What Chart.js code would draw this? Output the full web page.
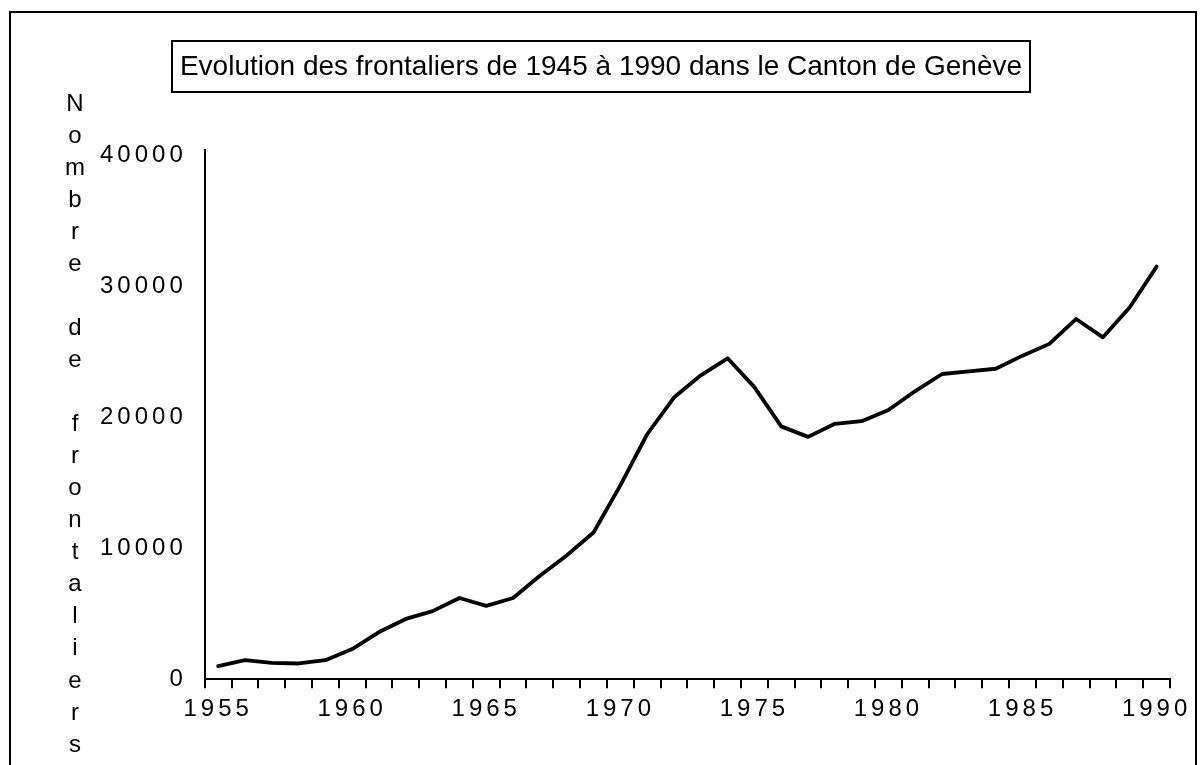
<!DOCTYPE html>
<html>
<head>
<meta charset="utf-8">
<script src="https://cdn.jsdelivr.net/npm/chart.js@4.4.1/dist/chart.umd.min.js"></script>
<style>
  html, body { margin: 0; padding: 0; background: #ffffff; }
  #wrap { width: 1203px; height: 765px; }
  canvas { display: block; }
</style>
</head>
<body>
<div id="wrap"><canvas id="c" width="1203" height="765"></canvas></div>
<script>
// ---- Data ----
const years = ['1955','1956','1957','1958','1959','1960','1961','1962','1963','1964',
               '1965','1966','1967','1968','1969','1970','1971','1972','1973','1974',
               '1975','1976','1977','1978','1979','1980','1981','1982','1983','1984',
               '1985','1986','1987','1988','1989','1990'];
const frontaliers = [1000, 1450, 1250, 1200, 1450, 2300, 3600, 4600, 5200, 6200,
                     5600, 6200, 7900, 9450, 11200, 14800, 18700, 21500, 23200, 24500,
                     22300, 19300, 18500, 19500, 19700, 20550, 22000, 23300, 23500, 23700,
                     24700, 25600, 27500, 26100, 28400, 31500];
const xTickLabels = ['1955','1960','1965','1970','1975','1980','1985','1990'];
const yTickValues = [0, 10000, 20000, 30000, 40000];
const titleText = 'Evolution des frontaliers de 1945 à 1990 dans le Canton de Genève';
const yAxisTitle = 'Nombre de frontaliers';

const FONT = '"Liberation Sans", Arial, Helvetica, sans-serif';

const decor = {
  id: 'decor',
  beforeUpdate(chart) { chart.ctx.letterSpacing = '4px'; },
  beforeDraw(chart) { chart.ctx.letterSpacing = '4px'; },
  afterDraw(chart) {
    const ctx = chart.ctx;
    ctx.save();
    ctx.letterSpacing = '0px';
    ctx.strokeStyle = '#000';
    ctx.lineWidth = 2;
    // outer frame
    ctx.strokeRect(10, 12, 1186, 800);
    // title box
    ctx.strokeRect(172, 41, 858, 51);
    ctx.fillStyle = '#000';
    ctx.font = '28px ' + FONT;
    ctx.textAlign = 'center';
    ctx.textBaseline = 'middle';
    ctx.fillText(titleText, 601, 67);
    // vertical stacked y-axis title
    ctx.font = '24px ' + FONT;
    const chars = Array.from(yAxisTitle);
    chars.forEach((ch, i) => {
      if (ch !== ' ') ctx.fillText(ch, 75, 104 + i * 32.05);
    });
    ctx.restore();
  }
};

new Chart(document.getElementById('c'), {
  type: 'line',
  data: {
    labels: years,
    datasets: [{
      data: frontaliers,
      borderColor: '#000',
      borderWidth: 3.8,
      pointRadius: 0,
      tension: 0,
      fill: false,
      borderJoinStyle: 'round',
      borderCapStyle: 'round'
    }]
  },
  options: {
    responsive: false,
    animation: false,
    devicePixelRatio: 1,
    layout: { padding: { top: 150, left: 82, right: 33, bottom: 34 } },
    plugins: { legend: { display: false }, title: { display: false }, tooltip: { enabled: false } },
    scales: {
      x: {
        type: 'category',
        offset: true,
        grid: { offset: true, drawOnChartArea: false, drawTicks: true, tickLength: 9, color: '#000', lineWidth: 2 },
        border: { display: true, color: '#000', width: 2 },
        ticks: {
          autoSkip: false, maxRotation: 0, minRotation: 0, padding: 7, color: '#000',
          font: { size: 24, family: FONT },
          callback: function(value) {
            const lab = this.getLabelForValue(value);
            return xTickLabels.includes(lab) ? lab : '';
          }
        }
      },
      y: {
        min: 0,
        max: 40400,
        afterBuildTicks: (scale) => {
          scale.ticks = yTickValues.map(v => ({ value: v }));
        },
        grid: { drawOnChartArea: false, drawTicks: false },
        border: { display: true, color: '#000', width: 2 },
        ticks: {
          padding: 18, color: '#000', font: { size: 24, family: FONT },
          callback: (v) => String(v)
        }
      }
    }
  },
  plugins: [decor]
});
</script>
</body>
</html>
